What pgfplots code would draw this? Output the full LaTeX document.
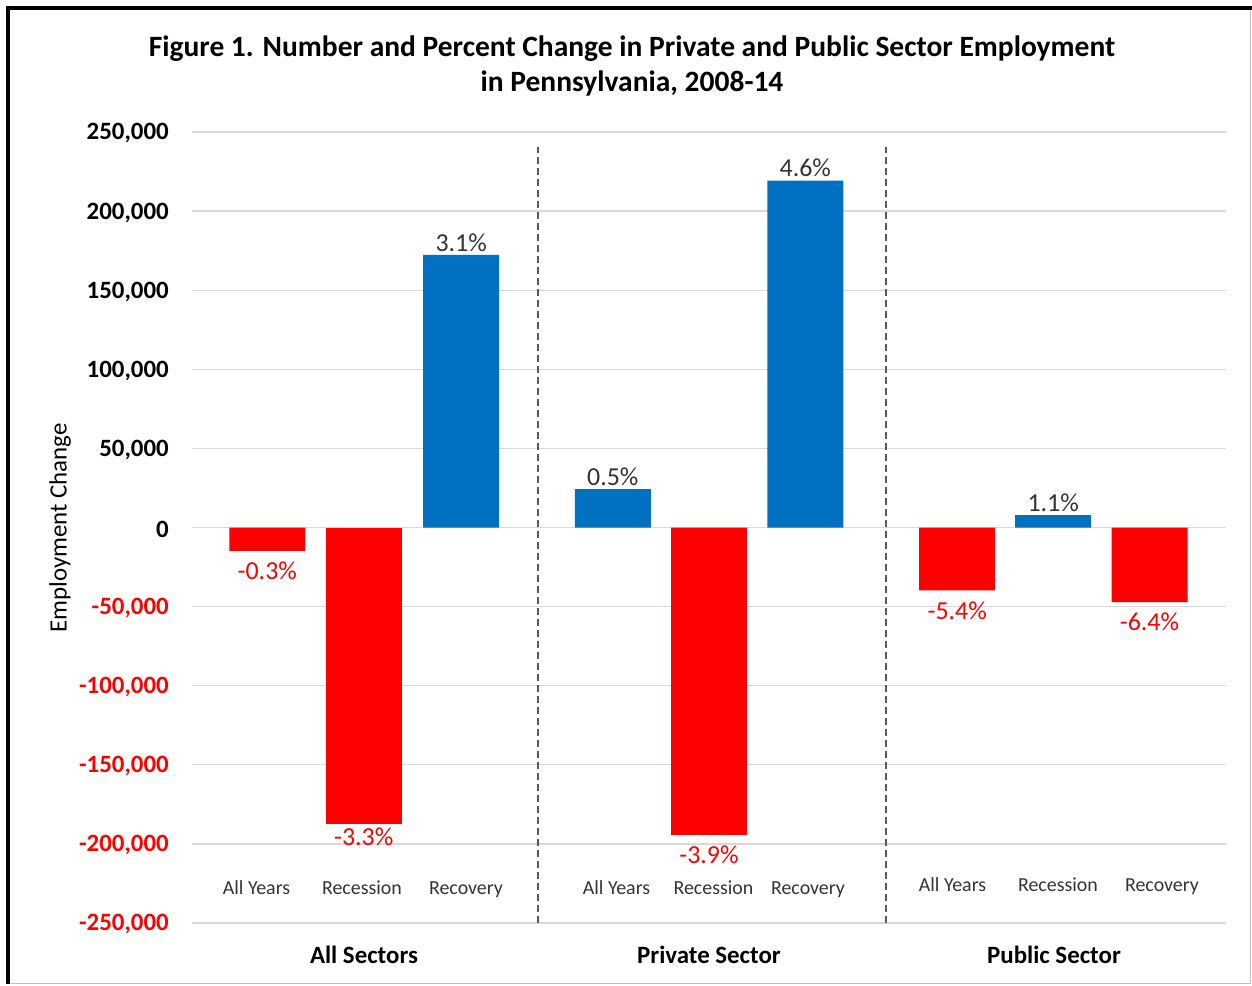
\documentclass[border=0pt]{standalone}
\usepackage{fontspec}
\setmainfont{Carlito}
\usepackage{pgfplots}
\pgfplotsset{compat=1.18}
\definecolor{xblue}{HTML}{0070C0}
\definecolor{xred}{HTML}{FF0000}
\definecolor{gridc}{HTML}{D9D9D9}
\definecolor{sepc}{HTML}{595959}
\definecolor{lbl}{HTML}{333333}
\definecolor{frameg}{HTML}{BFBFBF}
\begin{document}
\begin{tikzpicture}
\path[use as bounding box] (0,0) rectangle (1252bp,-986bp);
\begin{axis}[
  at={(192bp,-923bp)}, anchor=south west,
  scale only axis, width=1034bp, height=791bp,
  xmin=192, xmax=1226, ymin=-250000, ymax=250000,
  axis line style={draw=none}, tick style={draw=none},
  xtick=\empty, scaled y ticks=false,
  ytick={-250000,-200000,-150000,-100000,-50000,0,50000,100000,150000,200000,250000},
  yticklabels={{\color{xred}-250,000},{\color{xred}-200,000},{\color{xred}-150,000},{\color{xred}-100,000},{\color{xred}-50,000},{0},{50,000},{100,000},{150,000},{200,000},{250,000}},
  yticklabel style={font=\fontsize{25}{25}\selectfont\bfseries, anchor=east, inner sep=0pt, xshift=-23bp, yshift=-1.5bp},
  ymajorgrids, grid style={gridc, line width=1.3bp},
  ybar, bar width=76,
  clip=false,
  point meta=explicit symbolic,
  nodes near coords={\pgfplotspointmeta\%},
  every node near coord/.append style={font=\fontsize{26}{26}\selectfont},
]
\addplot[fill=xblue, draw=none, bar shift=0pt,
  nodes near coords style={anchor=south, text=lbl, inner ysep=3.5bp}]
  table[meta=lab] {
x y lab
612.8 24200 0.5
461.2 172300 3.1
805.3 219200 4.6
1053.2 7800 1.1
};
\addplot[fill=xred, draw=none, bar shift=0pt,
  nodes near coords style={anchor=north, text=xred, inner ysep=11bp}]
  table[meta=lab] {
x y lab
267.3 -14800 -0.3
709 -194300 -3.9
957.2 -39700 -5.4
1149.5 -47100 -6.4
};
\addplot[fill=xred, draw=none, bar shift=0pt,
  nodes near coords style={anchor=north, text=xred, inner ysep=4bp}]
  table[meta=lab] {
x y lab
363.7 -187100 -3.3
};
\draw[sepc, dash pattern=on 7bp off 4bp, line width=1.3bp] (axis cs:538,-250000) -- (axis cs:538,240400);
\draw[sepc, dash pattern=on 7bp off 4bp, line width=1.3bp] (axis cs:886,-250000) -- (axis cs:886,240400);
\end{axis}
\begin{scope}[x=1bp,y=-1bp]
% frame
\draw[frameg, line width=1.5bp] (1250.5,8) -- (1250.5,983.5) -- (8,983.5);
\draw[black, line width=4bp] (8,984) -- (8,8) -- (1252,8);
% title
\node[anchor=base, font=\fontsize{29.6}{29.6}\selectfont\bfseries] at (632,56) {Figure 1. Number and Percent Change in Private and Public Sector Employment};
\node[anchor=base, font=\fontsize{29.6}{29.6}\selectfont\bfseries] at (632,91) {in Pennsylvania, 2008-14};
% y label
\node[rotate=90, font=\fontsize{25}{25}\selectfont] at (60,528) {Employment Change};
% category labels
\begin{scope}[every node/.style={anchor=base, font=\fontsize{20}{20}\selectfont, text=lbl}]
\node at (256.5,894) {All Years};
\node at (362,894) {Recession};
\node at (466,894) {Recovery};
\node at (616.5,894) {All Years};
\node at (713.5,894) {Recession};
\node at (808,894) {Recovery};
\node at (952.5,891) {All Years};
\node at (1058,891) {Recession};
\node at (1162,891) {Recovery};
\end{scope}
% group labels
\begin{scope}[every node/.style={anchor=base, font=\fontsize{25}{25}\selectfont\bfseries}]
\node at (364,963) {All Sectors};
\node at (709,963) {Private Sector};
\node at (1054,963) {Public Sector};
\end{scope}
\end{scope}
\end{tikzpicture}
\end{document}
